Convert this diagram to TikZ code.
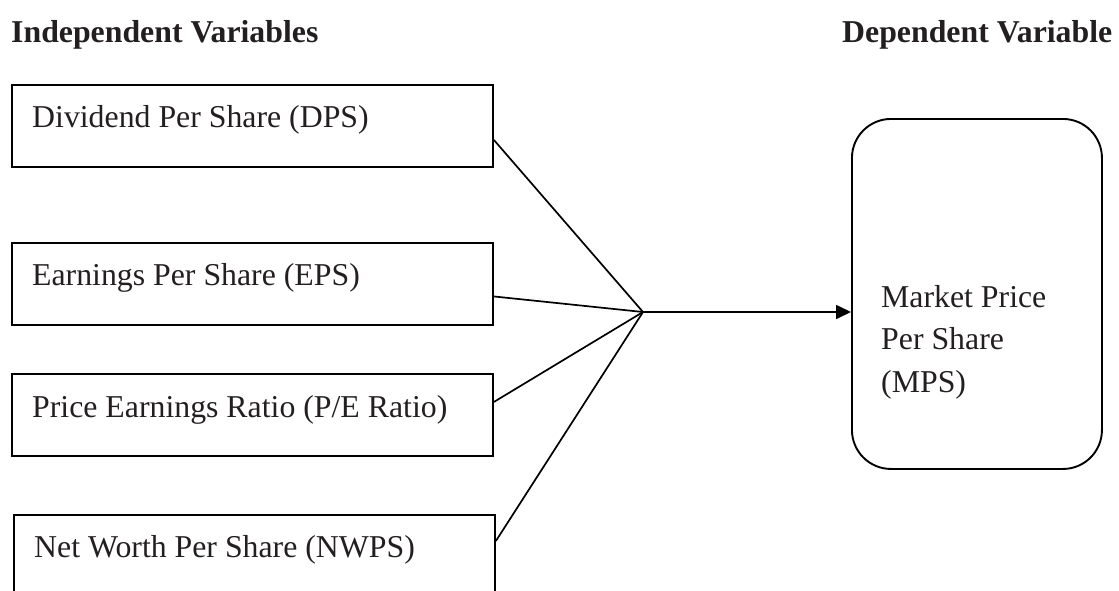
\documentclass[tikz,border=0pt]{standalone}
\usepackage{fontspec}
\setmainfont{Liberation Serif}
\usetikzlibrary{arrows.meta}
\definecolor{ink}{HTML}{231F20}

\begin{document}
\begin{tikzpicture}[x=1pt,y=-1pt,
  varbox/.style={draw=black, line width=1.9pt, rectangle, inner sep=0pt,
    anchor=north west, minimum width=481pt, minimum height=82pt},
  boxtext/.style={anchor=base west, inner sep=0pt, text=ink,
    font=\fontsize{31.8}{42.5}\selectfont},
  heading/.style={anchor=base west, inner sep=0pt, text=ink,
    font=\fontsize{31.8}{38}\selectfont\bfseries},
  outcome/.style={draw=black, line width=1.9pt, rounded corners=39pt,
    inner sep=0pt, anchor=north west, minimum width=250pt, minimum height=350pt},
  link/.style={draw=black, line width=1.7pt},
  arrowtip/.style={-{Triangle[length=15pt,width=14pt]}}
]
\useasboundingbox (0,0) rectangle (1119,590);
\clip (0,0) rectangle (1119,590);

% column headings
\node[heading] (indep) at (11,42) {Independent Variables};
\node[heading] (dep) at (842,42) {Dependent Variable};

% independent variable boxes
\node[varbox] (dps) at (11,84) {};
\node[varbox] (eps) at (11,242) {};
\node[varbox] (pe) at (11,373) {};
\node[varbox, minimum height=90pt] (nwps) at (13,514) {};

\node[boxtext] (dpst) at (32,127) {Dividend Per Share (DPS)};
\node[boxtext] (epst) at (32,285) {Earnings Per Share (EPS)};
\node[boxtext] (pet) at (32,417) {Price Earnings Ratio (P/E Ratio)};
\node[boxtext] (nwpst) at (34,557) {Net Worth Per Share (NWPS)};

% dependent variable (base anchor sits on the last line)
\node[outcome] (mps) at (851,118) {};
\node[boxtext, align=left] (mpst) at (881,392) {Market Price\\Per Share\\(MPS)};

% connectors meeting in one point
\coordinate (hub) at (643,312);
\draw[link] ([yshift=-14pt]dps.east) -- (hub);
\draw[link] ([yshift=-12.5pt]eps.east) -- (hub);
\draw[link] ([yshift=13pt]pe.east) -- (hub);
\draw[link] ([yshift=19pt]nwps.east) -- (hub);
\draw[link, arrowtip] (hub) -- (hub -| mps.west);
\end{tikzpicture}
\end{document}
